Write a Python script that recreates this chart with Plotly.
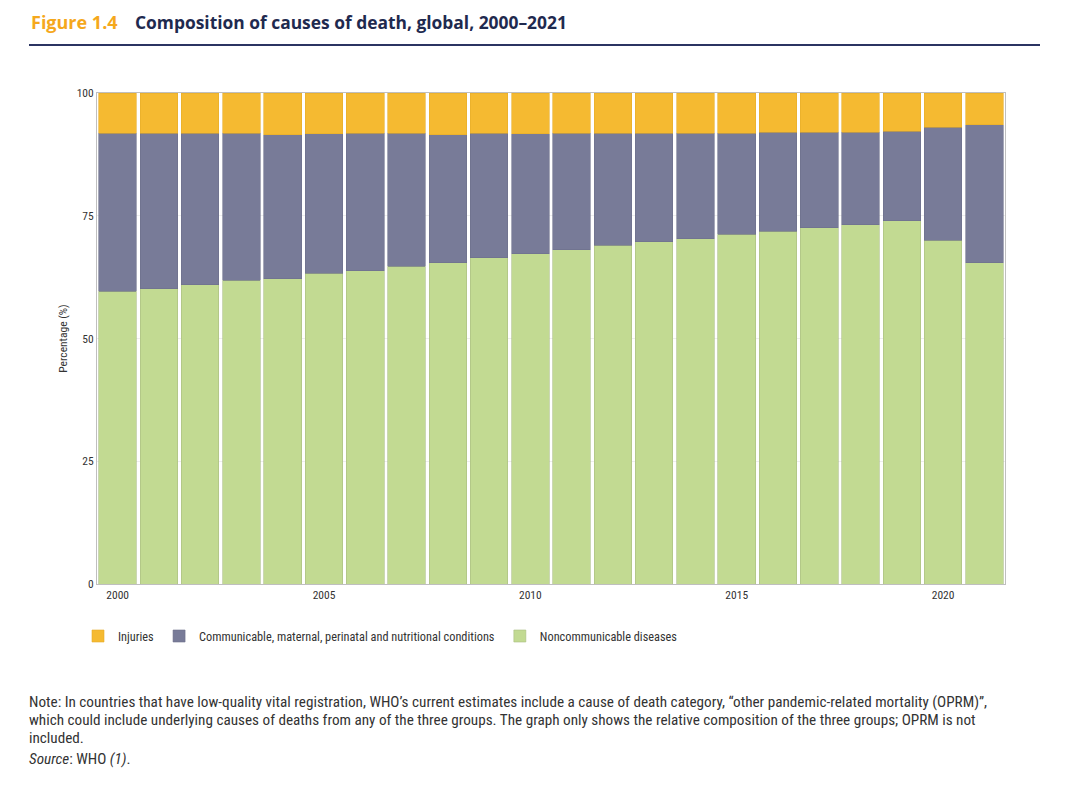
import plotly.graph_objects as go

# Composition of causes of death, global, 2000-2021 (% of all deaths)
years = list(range(2000, 2022))
noncommunicable = [59.6, 60.1, 60.9, 61.9, 62.2, 63.3, 63.8, 64.7, 65.4, 66.4, 67.3,
                   68.1, 69.0, 69.7, 70.3, 71.2, 71.8, 72.6, 73.2, 74.0, 70.0, 65.4]
# cumulative top of the communicable band (NCD + communicable)
upper_band = [91.8, 91.8, 91.8, 91.8, 91.5, 91.7, 91.8, 91.8, 91.5, 91.8, 91.7,
              91.8, 91.8, 91.8, 91.8, 91.8, 92.0, 92.0, 92.0, 92.2, 93.0, 93.5]
communicable = [round(u - n, 1) for u, n in zip(upper_band, noncommunicable)]
injuries = [round(100 - u, 1) for u in upper_band]

y_ticks = [0, 25, 50, 75, 100]
x_ticks = [2000, 2005, 2010, 2015, 2020]

FONT = "Liberation Sans Narrow, Roboto Condensed, Open Sans, sans-serif"
TITLE_FONT = "Open Sans, Noto Sans, sans-serif"

fig = go.Figure()
fig.add_trace(go.Bar(x=years, y=noncommunicable, name="Noncommunicable diseases",
                     marker=dict(color="#c2da92", line=dict(color="#a9bd82", width=0.6))))
fig.add_trace(go.Bar(x=years, y=communicable,
                     name="Communicable, maternal, perinatal and nutritional conditions",
                     marker=dict(color="#787b98", line=dict(color="#6c6f8a", width=0.6))))
fig.add_trace(go.Bar(x=years, y=injuries, name="Injuries",
                     marker=dict(color="#f5ba31", line=dict(color="#e6ad2a", width=0.6))))

# page has an 8px body margin; positions below are in reference-image pixels
OFF = 8
W, H = 1080, 789
L, R, T, B = 97 - OFF, 1005 - OFF, 93 - OFF, 584 - OFF
pw, ph = R - L, B - T


def px_x(x):
    return (x - OFF - L) / pw


def px_y(y):
    return (B - (y - OFF)) / ph


fig.update_layout(
    width=W, height=H,
    barmode="stack", bargap=0.09,
    plot_bgcolor="white", paper_bgcolor="white",
    margin=dict(l=L, r=W - R, t=T, b=H - B),
    font=dict(family=FONT, size=11, color="#333333"),
    legend=dict(orientation="h", traceorder="reversed", x=px_x(78), y=px_y(636),
                xanchor="left", yanchor="middle", font=dict(size=12.3, color="#333333"),
                itemwidth=30, tracegroupgap=0),
    xaxis=dict(range=[1999.5, 2021.5], tickvals=x_ticks, ticks="", showgrid=False,
               showline=True, linecolor="#bfbfbf", linewidth=1, mirror=True,
               tickfont=dict(size=11.5, color="#333333"), zeroline=False),
    yaxis=dict(range=[0, 100], tickvals=y_ticks, showgrid=True, gridcolor="#eeeeee",
               showline=True, linecolor="#bfbfbf", linewidth=1, mirror=True,
               tickfont=dict(size=11.5, color="#333333"), zeroline=False,
               title=dict(text="Percentage (%)", font=dict(size=11.5, color="#333333"), standoff=6)),
)

# title row
fig.add_annotation(text="<b>Figure 1.4</b>", xref="paper", yref="paper",
                   x=px_x(29), y=px_y(22), xanchor="left", yanchor="middle", showarrow=False,
                   font=dict(family=TITLE_FONT, size=18, color="#f5a81c"))
fig.add_annotation(text="<b>Composition of causes of death, global, 2000–2021</b>",
                   xref="paper", yref="paper", x=px_x(133), y=px_y(22),
                   xanchor="left", yanchor="middle", showarrow=False,
                   font=dict(family=TITLE_FONT, size=17.4, color="#1f2a4f"))
fig.add_shape(type="line", xref="paper", yref="paper", x0=px_x(29), x1=px_x(1040),
              y0=px_y(45), y1=px_y(45), line=dict(color="#2b3462", width=2))

note_lines = [
    "Note: In countries that have low-quality vital registration, WHO’s current estimates include a cause of death category, “other pandemic-related mortality (OPRM)”,",
    "which could include underlying causes of deaths from any of the three groups. The graph only shows the relative composition of the three groups; OPRM is not",
    "included.",
    "<i>Source</i>: WHO <i>(1)</i>.",
]
note_y = [702, 720, 738, 759]
for line, yy in zip(note_lines, note_y):
    fig.add_annotation(text=line, xref="paper", yref="paper", x=px_x(27), y=px_y(yy),
                       xanchor="left", yanchor="middle", align="left", showarrow=False,
                       font=dict(family=FONT, size=15.2, color="#333333"))

fig.write_html("out.html")
